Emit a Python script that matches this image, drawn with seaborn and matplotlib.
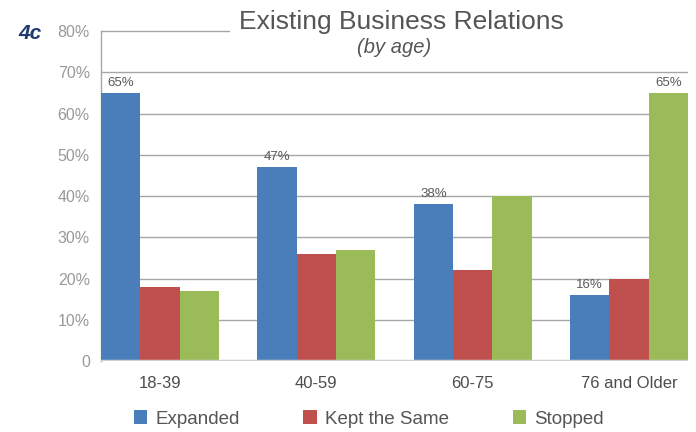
import matplotlib
matplotlib.use("Agg")
import matplotlib.pyplot as plt
from matplotlib.patches import Patch
import seaborn as sns
import pandas as pd

age_groups = ["18-39", "40-59", "60-75", "76 and Older"]
series_names = ["Expanded", "Kept the Same", "Stopped"]
expanded = [65, 47, 38, 16]
kept_same = [18, 26, 22, 20]
stopped = [17, 27, 40, 65]
colors = ["#4A7EBB", "#C0504D", "#9BBB59"]
y_ticks = [0, 10, 20, 30, 40, 50, 60, 70, 80]
y_tick_labels = ["0", "10%", "20%", "30%", "40%", "50%", "60%", "70%", "80%"]

rows = []
for name, vals in zip(series_names, [expanded, kept_same, stopped]):
    for g, v in zip(age_groups, vals):
        rows.append({"Age": g, "Response": name, "Value": v})
df = pd.DataFrame(rows)

sns.set_theme(style="white")
plt.rcParams["font.family"] = ["Liberation Sans", "DejaVu Sans"]

fig = plt.figure(figsize=(6.96, 4.32), dpi=100)
ax = fig.add_axes([0.145, 0.164, 0.8435, 0.764])

group_width = 0.755
sns.barplot(data=df, x="Age", y="Value", hue="Response", order=age_groups,
            hue_order=series_names, palette=colors, width=group_width, ax=ax,
            saturation=1, legend=False, zorder=3, errorbar=None, linewidth=0,
            edgecolor="none")

ax.set_ylim(0, 80)
ax.set_xlim(-group_width / 2, 3 + group_width / 2)
ax.set_yticks(y_ticks)
ax.set_yticklabels(y_tick_labels)
ax.set_xlabel("")
ax.set_ylabel("")

# gridlines; the top one is cut short by the title
for t in y_ticks[1:-1]:
    ax.axhline(t, color="#A6A6A6", lw=1.0, zorder=1)
ax.axhline(80, xmin=0, xmax=0.218, color="#A6A6A6", lw=1.0, zorder=1, clip_on=False)
ax.axhline(0, color="#D0D0D0", lw=2.5, zorder=4)

for s in ["top", "right", "bottom"]:
    ax.spines[s].set_visible(False)
ax.spines["left"].set_color("#A6A6A6")
ax.spines["left"].set_linewidth(1.0)

ax.tick_params(axis="y", labelsize=11.5, length=0, pad=8)
ax.tick_params(axis="x", labelsize=12, length=0, pad=11)
for lbl in ax.get_yticklabels():
    lbl.set_color("#999999")
for lbl in ax.get_xticklabels():
    lbl.set_color("#4D4D4D")

# value labels: all Expanded bars, last Stopped bar
containers = ax.containers
ax.bar_label(containers[0], labels=[f"{v}%" for v in expanded], padding=3,
             fontsize=9.5, color="#595959")
stop_labels = ["" for _ in stopped]
stop_labels[-1] = f"{stopped[-1]}%"
ax.bar_label(containers[2], labels=stop_labels, padding=3, fontsize=9.5, color="#595959")

fig.text(0.576, 0.950, "Existing Business Relations", ha="center", va="center",
         fontsize=19, color="#555555")
fig.text(0.566, 0.890, "(by age)", ha="center", va="center",
         fontsize=14.5, color="#555555", style="italic")
fig.text(0.026, 0.922, "4c", ha="left", va="center", fontsize=15,
         color="#1F3A6E", fontweight="bold", style="italic")

handles = [Patch(facecolor=c, edgecolor="none") for c in colors]
fig.legend(handles, series_names, loc="center", bbox_to_anchor=(0.53, 0.03),
           ncol=3, frameon=False, fontsize=13.5, handlelength=0.7, handleheight=0.7,
           handletextpad=0.45, columnspacing=3.4, labelcolor="#555555")

fig.savefig("out.png", dpi=100)
